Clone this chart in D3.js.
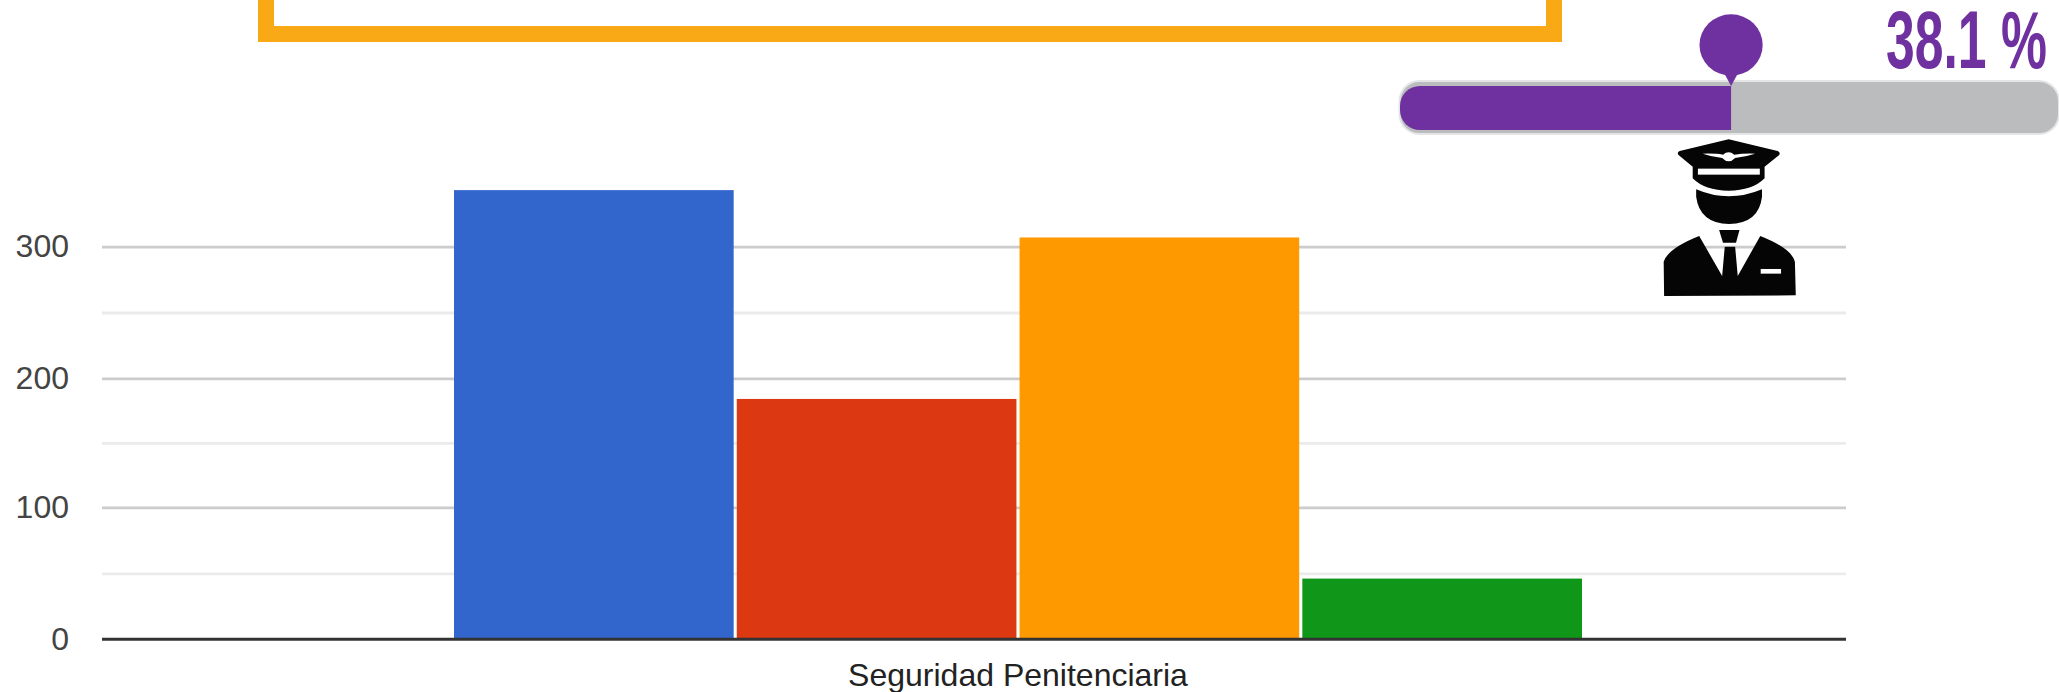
<!DOCTYPE html>
<html>
<head>
<meta charset="utf-8">
<script src="https://cdn.jsdelivr.net/npm/d3@7"></script>
<style>
  html, body { margin: 0; padding: 0; background: #fff; overflow: hidden; }
  text { font-family: "Liberation Sans", Arial, sans-serif; }
</style>
</head>
<body>
<div id="plot"></div>
<script>
// Chart data
const categories = ["Seguridad Penitenciaria"];
const seriesValues = [343, 184, 307, 46];
const seriesColors = ["#3366cc", "#dc3912", "#ff9900", "#109618"];
const majorTicks = [0, 100, 200, 300];
const minorTicks = [50, 150, 250];
const progressValue = 38.1;
const progressLabel = "38.1 %";

const width = 2059;
const height = 692;

const svg = d3.select("#plot")
  .append("svg")
  .attr("width", width)
  .attr("height", height)
  .style("display", "block");

// Scales, y follows the gridlines as measured in the picture
const y = d3.scaleLinear().domain(majorTicks).range([639.3, 507.3, 378.3, 246.7]);
const x0 = d3.scaleBand().domain(categories).range([454, 1582]);
const x1 = d3.scaleBand().domain(d3.range(seriesValues.length))
  .range([0, x0.bandwidth()])
  .paddingInner(0.011);

const gridLeft = 102;
const gridRight = 1846;

// Gridlines and y labels
const minorAxis = svg.append("g")
  .attr("transform", `translate(${gridLeft},0)`)
  .call(d3.axisLeft(y).tickValues(minorTicks).tickSize(-(gridRight - gridLeft)).tickFormat(""));
minorAxis.select(".domain").remove();
minorAxis.selectAll("line").attr("stroke", "#ebebeb").attr("stroke-width", 2.8);

const majorAxis = svg.append("g")
  .attr("transform", `translate(${gridLeft},0)`)
  .call(d3.axisLeft(y).tickValues(majorTicks.slice(1)).tickSize(-(gridRight - gridLeft)).tickPadding(33));
majorAxis.select(".domain").remove();
majorAxis.selectAll("line").attr("stroke", "#cccccc").attr("stroke-width", 2.8);

const zeroLabel = svg.append("g")
  .attr("transform", `translate(${gridLeft},0)`)
  .call(d3.axisLeft(y).tickValues(majorTicks.slice(0, 1)).tickSize(0).tickPadding(33));
zeroLabel.select(".domain").remove();

svg.selectAll("g text")
  .attr("font-family", "Liberation Sans")
  .attr("font-size", 32)
  .attr("fill", "#444444");

// Bars
svg.append("g")
  .selectAll("rect")
  .data(seriesValues)
  .enter().append("rect")
  .attr("x", (d, i) => x0(categories[0]) + x1(i))
  .attr("y", d => y(d))
  .attr("width", x1.bandwidth())
  .attr("height", d => y(0) - y(d))
  .attr("fill", (d, i) => seriesColors[i]);

// Baseline
svg.append("line")
  .attr("x1", gridLeft)
  .attr("x2", gridRight)
  .attr("y1", y(0))
  .attr("y2", y(0))
  .attr("stroke", "#333333")
  .attr("stroke-width", 3);

// Category label
const xAxis = svg.append("g")
  .attr("transform", `translate(0,${y(0)})`)
  .call(d3.axisBottom(x0).tickSize(0).tickPadding(24));
xAxis.select(".domain").remove();
xAxis.selectAll("text")
  .attr("font-family", "Liberation Sans")
  .attr("font-size", 32)
  .attr("fill", "#222222");

// Orange frame, its top runs off the page
svg.append("rect")
  .attr("x", 266)
  .attr("y", -60)
  .attr("width", 1288)
  .attr("height", 94)
  .attr("fill", "none")
  .attr("stroke", "#faa916")
  .attr("stroke-width", 16);

// Progress bar
const progress = d3.scaleLinear().domain([0, 100]).range([1400, 2269]);

svg.append("defs").append("clipPath")
  .attr("id", "track-clip")
  .append("rect")
  .attr("x", 1400)
  .attr("y", 86)
  .attr("width", 660)
  .attr("height", 44)
  .attr("rx", 20);

svg.append("rect")
  .attr("x", 1399.5)
  .attr("y", 81)
  .attr("width", 659.5)
  .attr("height", 53)
  .attr("rx", 20)
  .attr("fill", "#bbbcbe")
  .attr("stroke", "#e4e5e6")
  .attr("stroke-width", 2);

svg.append("rect")
  .attr("x", progress(0))
  .attr("y", 86)
  .attr("width", progress(progressValue) - progress(0))
  .attr("height", 44)
  .attr("fill", "#6f319f")
  .attr("clip-path", "url(#track-clip)");

// Pin above the bar end
const pin = svg.append("g")
  .attr("transform", `translate(${progress(progressValue)},0)`)
  .attr("fill", "#6f319f");
pin.append("ellipse").attr("cx", 0).attr("cy", 45).attr("rx", 31.6).attr("ry", 30.7);
pin.append("path").attr("d", "M-7,73 L7,73 L0,86 Z");

// Percent label, squeezed to the width it has in the picture
const pctLabel = svg.append("text")
  .attr("font-family", "Liberation Sans Narrow")
  .attr("font-weight", "bold")
  .attr("font-size", 81)
  .attr("fill", "#6f319f")
  .text(progressLabel);
const pctScale = 161 / pctLabel.node().getComputedTextLength();
pctLabel.attr("transform", `translate(1886,68) scale(${pctScale},1)`);

// Officer icon, traced in a 2.309 x 3 zoomed space
const officer = svg.append("g")
  .attr("transform", "translate(1380,0) scale(0.4331,0.3333)");

officer.append("path")
  .attr("fill", "#050505")
  .attr("d", "M805,418 L918,453 Q926,458 921,466 L888,500 L888,535 Q860,572 805,572 Q750,572 722,535 L722,500 L690,466 Q684,458 692,453 Z");
officer.append("rect")
  .attr("x", 734).attr("y", 506).attr("width", 143).attr("height", 18)
  .attr("fill", "#fff");
officer.append("path")
  .attr("fill", "#fff")
  .attr("d", "M745,461 Q775,460 792,464 Q805,450 818,464 Q838,460 866,461 Q845,470 820,474 Q805,494 790,474 Q765,470 745,461 Z");
officer.append("path")
  .attr("fill", "#050505")
  .attr("d", "M730,568 Q805,610 882,568 L882,590 Q875,670 806,672 Q738,670 730,590 Z");
officer.append("path")
  .attr("fill", "#050505")
  .attr("d", "M783,690 L830,690 L822,728 L792,728 Z");
officer.append("path")
  .attr("fill", "#050505")
  .attr("d", "M737,708 L790,828 L796,740 L820,740 L826,828 L878,708 Q950,745 958,785 L960,886 L656,888 L655,785 Q665,745 737,708 Z");
officer.append("rect")
  .attr("x", 879).attr("y", 807).attr("width", 47).attr("height", 14)
  .attr("fill", "#fff");
</script>
</body>
</html>
